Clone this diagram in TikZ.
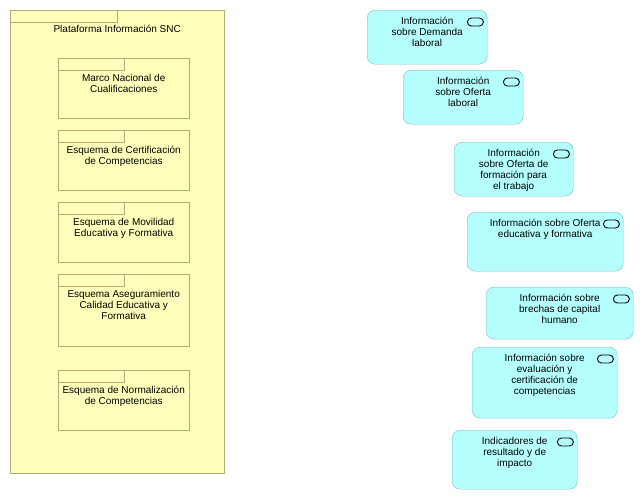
\documentclass[tikz,border=0pt]{standalone}
\usepackage{fontspec}
\setmainfont{Liberation Sans}
\usetikzlibrary{positioning}
\definecolor{pkgfill}{HTML}{FFFFBB}
\definecolor{pkgline}{HTML}{B0AC78}
\definecolor{datafill}{HTML}{B5FFFF}
\definecolor{dataline}{HTML}{7DBDBD}
\tikzset{
    pkgbox/.style={draw=pkgline, fill=pkgfill, anchor=north west, inner sep=0pt},
    databox/.style={draw=dataline, fill=datafill, rounded corners=8pt, anchor=north west, inner sep=0pt},
    boxtext/.style={align=center, font=\fontsize{10}{11}\selectfont, inner sep=0pt},
    dataicon/.style={draw=black, line width=0.9pt, rounded corners=4pt}
}
% tab of a package and the small icon of a data object
\newcommand{\pkgtab}[2]{\draw[pkgline] (#1.north west) rectangle ++(#2,12);}
\newcommand{\dataobj}[1]{\draw[dataicon] ([xshift=-20pt,yshift=-8pt]#1.north east) rectangle ++(16,8);}

\begin{document}
\begin{tikzpicture}[x=1pt, y=-1pt]
    \useasboundingbox (0,0) rectangle (644,501);
    % platform with its schemes
    \node[pkgbox, minimum width=214pt, minimum height=463pt] (plataforma) at (10,10) {};
    \pkgtab{plataforma}{107}
    \node[boxtext, below=14.7pt of plataforma.north] (plataforma-t) {Plataforma Información SNC};
    \node[pkgbox, minimum width=131pt, minimum height=60pt] (marco) at (58,58) {};
    \node[pkgbox, minimum width=131pt, minimum height=60pt] (certificacion) at (58,130) {};
    \node[pkgbox, minimum width=131pt, minimum height=60pt] (movilidad) at (58,202) {};
    \node[pkgbox, minimum width=131pt, minimum height=72pt] (calidad) at (58,274) {};
    \node[pkgbox, minimum width=131pt, minimum height=60pt] (normalizacion) at (58,370) {};
    \foreach \p in {marco,certificacion,movilidad,calidad,normalizacion} {\pkgtab{\p}{66}}
    \node[boxtext, below=15.7pt of marco.north] (marco-t) {Marco Nacional de\\Cualificaciones};
    \node[boxtext, below=15.7pt of certificacion.north] (certificacion-t) {Esquema de Certificación\\de Competencias};
    \node[boxtext, below=15.7pt of movilidad.north] (movilidad-t) {Esquema de Movilidad\\Educativa y Formativa};
    \node[boxtext, below=15.7pt of calidad.north] (calidad-t) {Esquema Aseguramiento\\Calidad Educativa y\\Formativa};
    \node[boxtext, below=15.7pt of normalizacion.north] (normalizacion-t) {Esquema de Normalización\\de Competencias};
    % information objects
    \node[databox, minimum width=120pt, minimum height=54pt] (demanda) at (367,10) {};
    \node[databox, minimum width=120pt, minimum height=54pt] (oferta) at (403,70) {};
    \node[databox, minimum width=119pt, minimum height=54pt] (formacion) at (454,142) {};
    \node[databox, minimum width=156pt, minimum height=59pt] (educativa) at (467,212) {};
    \node[databox, minimum width=147pt, minimum height=52pt] (brechas) at (486,287) {};
    \node[databox, minimum width=145pt, minimum height=71pt] (evaluacion) at (472,347) {};
    \node[databox, minimum width=125pt, minimum height=59pt] (indicadores) at (452,430) {};
    \foreach \d in {demanda,oferta,formacion,educativa,brechas,evaluacion,indicadores} {\dataobj{\d}}
    \node[boxtext, below=6.7pt of demanda.north] (demanda-t) {Información\\sobre Demanda\\laboral};
    \node[boxtext, below=6.7pt of oferta.north] (oferta-t) {Información\\sobre Oferta\\laboral};
    \node[boxtext, below=6.7pt of formacion.north] (formacion-t) {Información\\sobre Oferta de\\formación para\\el trabajo};
    \node[boxtext, below=6.7pt of educativa.north] (educativa-t) {Información sobre Oferta\\educativa y formativa};
    \node[boxtext, below=6.7pt of brechas.north] (brechas-t) {Información sobre\\brechas de capital\\humano};
    \node[boxtext, below=6.7pt of evaluacion.north] (evaluacion-t) {Información sobre\\evaluación y\\certificación de\\competencias};
    \node[boxtext, below=6.7pt of indicadores.north] (indicadores-t) {Indicadores de\\resultado y de\\impacto};
\end{tikzpicture}
\end{document}
